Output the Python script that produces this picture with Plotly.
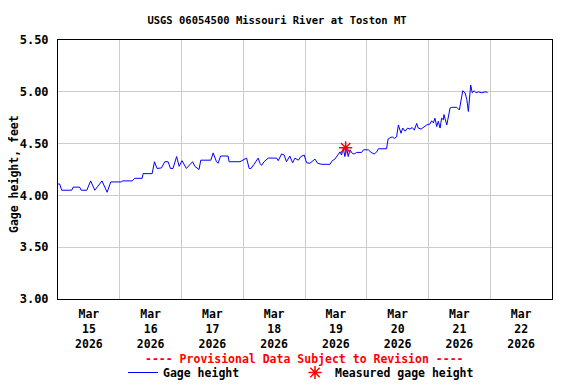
import plotly.graph_objects as go
import pandas as pd

# ---- data ----
start = pd.Timestamp("2026-03-15 00:00")
hours = [0.0, 0.66, 1.44, 5.33, 5.9, 8.4, 9.0, 11.2, 12.7, 14.3, 17.1, 19.1, 20.5, 24.7, 25.0,
         28.8, 29.8, 32.7, 33.1, 36.6, 37.5, 38.5, 40.2, 41.5, 42.8, 43.7, 44.7, 46.1, 47.1,
         48.2, 49.9, 52.3, 53.2, 54.8, 55.5, 59.4, 60.3, 61.6, 62.2, 63.2, 66.1, 66.5, 70.7,
         73.3, 74.3, 75.0, 76.2, 77.8, 78.5, 79.1, 80.1, 81.7, 85.0, 85.6, 86.9, 87.9, 88.8,
         90.1, 91.2, 92.1, 93.4, 94.4, 95.7, 96.6, 97.9, 99.2, 99.9, 100.9, 102.5, 105.7,
         106.6, 107.6, 108.9, 109.6, 110.2, 110.9, 111.5, 112.2, 112.8, 113.5, 114.4, 115.1,
         116.1, 118.0, 118.7, 120.6, 121.7, 122.9, 123.9, 124.5, 127.7, 128.3, 129.0, 129.9,
         130.7, 131.6, 132.3, 132.9, 133.3, 134.0, 134.9, 135.9, 136.8, 137.7, 138.5, 139.4,
         140.0, 141.1, 142.6, 143.3, 144.6, 145.2, 145.9, 146.5, 147.2, 147.8, 148.5, 149.1,
         149.8, 150.0, 151.1, 151.7, 152.4, 153.0, 155.0, 156.0, 156.9, 157.3, 158.2, 158.9,
         159.5, 159.9, 160.4, 161.0, 161.7, 162.5, 163.4, 164.7, 166.0, 167.0]
gage = [4.11, 4.11, 4.05, 4.05, 4.08, 4.08, 4.05, 4.05, 4.14, 4.05, 4.14, 4.03, 4.13, 4.13, 4.14,
        4.14, 4.165, 4.165, 4.21, 4.21, 4.325, 4.26, 4.265, 4.325, 4.325, 4.26, 4.26, 4.375, 4.28,
        4.335, 4.26, 4.325, 4.28, 4.25, 4.34, 4.34, 4.41, 4.325, 4.31, 4.38, 4.38, 4.325, 4.325,
        4.36, 4.26, 4.26, 4.30, 4.36, 4.31, 4.29, 4.325, 4.36, 4.36, 4.335, 4.40, 4.39, 4.325,
        4.38, 4.315, 4.36, 4.34, 4.375, 4.39, 4.315, 4.31, 4.335, 4.35, 4.31, 4.30, 4.30,
        4.335, 4.35, 4.40, 4.42, 4.39, 4.455, 4.375, 4.455, 4.375, 4.44, 4.405, 4.40,
        4.415, 4.415, 4.44, 4.44, 4.415, 4.40, 4.42, 4.45, 4.45, 4.545, 4.555, 4.565,
        4.55, 4.565, 4.68, 4.63, 4.60, 4.65, 4.62, 4.65, 4.64, 4.655, 4.63, 4.695,
        4.65, 4.64, 4.665, 4.68, 4.69, 4.72, 4.70, 4.745, 4.665, 4.715, 4.65, 4.745,
        4.73, 4.78, 4.68, 4.745, 4.845, 4.85, 4.85, 4.825, 4.94, 5.01, 4.99, 4.925,
        4.81, 4.925, 5.065, 4.99, 5.01, 4.99, 5.0, 4.99, 5.0, 4.995]
meas_hours = [111.8]
meas_gage = [4.46]

day_tick_hours = [12, 36, 60, 84, 108, 132, 156, 180]
day_tick_text = ["Mar<br>15<br>2026", "Mar<br>16<br>2026", "Mar<br>17<br>2026", "Mar<br>18<br>2026",
                 "Mar<br>19<br>2026", "Mar<br>20<br>2026", "Mar<br>21<br>2026", "Mar<br>22<br>2026"]
y_ticks = [3.0, 3.5, 4.0, 4.5, 5.0, 5.5]

times = start + pd.to_timedelta(hours, unit="h")
meas_times = start + pd.to_timedelta(meas_hours, unit="h")
tick_times = start + pd.to_timedelta(day_tick_hours, unit="h")
x_end = start + pd.Timedelta(days=8)

FONT = "DejaVu Sans Mono"
W, H = 568, 376          # page has an 8px body margin
L, R, T, B = 50, 24, 32, 85
PW, PH = W - L - R, H - T - B
OFF = 8                  # page offset of the figure


def px(xpage):
    return (xpage - OFF - L) / PW


def py(ypage):
    return 1 - (ypage - OFF - T) / PH


BOLD = dict(family=FONT, size=11.5, color="black", weight="bold")

fig = go.Figure()
fig.add_trace(go.Scatter(x=times, y=gage, mode="lines", name="Gage height",
                         line=dict(color="#0000ff", width=1), legend="legend"))
fig.add_trace(go.Scatter(x=meas_times, y=meas_gage, mode="markers", name="Measured gage height",
                         marker=dict(symbol="asterisk-open", size=11, color="#ff0000",
                                     line=dict(color="#ff0000", width=1.5)),
                         legend="legend2"))

legend_common = dict(orientation="h", xanchor="left", yanchor="top", bgcolor="rgba(0,0,0,0)",
                     font=BOLD, itemclick=False)

fig.update_layout(
    width=W, height=H,
    margin=dict(l=L, r=R, t=T, b=B, autoexpand=False),
    paper_bgcolor="white", plot_bgcolor="white",
    font=BOLD,
    title=dict(text="USGS 06054500 Missouri River at Toston MT", x=(277 - OFF) / W,
               xanchor="center", y=1 - (20 - OFF) / H, yanchor="middle",
               font=dict(family=FONT, size=10.5, color="black", weight="bold")),
    showlegend=True,
    legend=dict(x=px(123), y=py(358), **legend_common),
    legend2=dict(x=px(295), y=py(358), **legend_common),
    xaxis=dict(range=[start, x_end], tickvals=tick_times, ticktext=day_tick_text,
               showgrid=False, ticks="", showline=True, linecolor="black", linewidth=1,
               mirror=True, zeroline=False, tickangle=0, automargin=False, ticklabelstandoff=4,
               tickfont=BOLD,
               minor=dict(dtick=86400000, tick0=start, showgrid=True, gridcolor="#cccccc",
                          gridwidth=1, ticks="")),
    yaxis=dict(range=[3.0, 5.5], tickvals=y_ticks, tickformat=".2f", showgrid=True,
               gridcolor="#cccccc", gridwidth=1, ticks="", showline=True, linecolor="black",
               linewidth=1, mirror=True, zeroline=False, ticklabelstandoff=6, automargin=False,
               tickfont=dict(family=FONT, size=12, color="black", weight="bold")),
    annotations=[
        dict(text="Gage height, feet", xref="paper", yref="paper", x=px(13.5), y=py(174.5),
             xanchor="center", yanchor="middle", textangle=-90, showarrow=False, font=BOLD),
        dict(text="---- Provisional Data Subject to Revision ----", xref="paper",
             yref="paper", x=px(304), y=py(359), xanchor="center",
             yanchor="middle", showarrow=False,
             font=dict(family=FONT, size=11.5, color="#ff0000", weight="bold")),
    ],
)

fig.write_html("out.html")
